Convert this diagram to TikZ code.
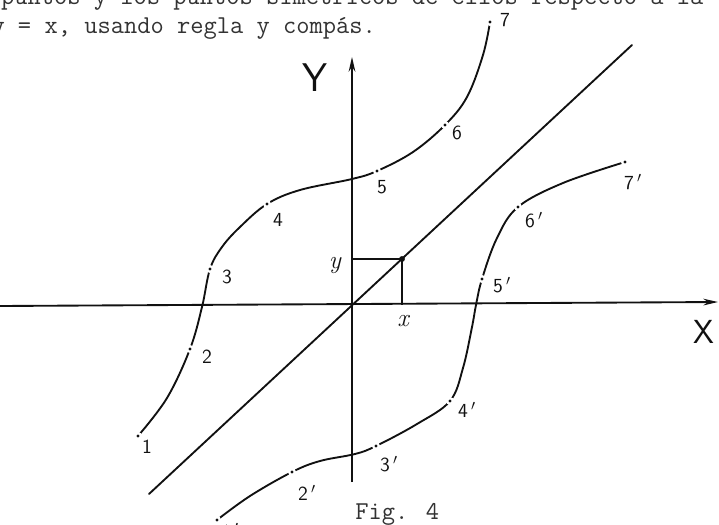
\documentclass[tikz,border=0pt]{standalone}
\usepackage{fontspec}
\usetikzlibrary{arrows.meta}
\definecolor{typ}{HTML}{333333}
\definecolor{ink}{HTML}{111111}
\begin{document}
\begin{tikzpicture}[x=0.75pt,y=-0.75pt,
  typtext/.style={anchor=base west,inner sep=0pt,text=typ,font=\ttfamily\fontsize{19.3}{20}\selectfont},
  axisline/.style={draw=ink,line width=1.4pt},
  crv/.style={draw=ink,line width=1.4pt,line cap=round},
  lbl/.style={inner sep=0pt,text=ink,font=\sffamily\fontsize{15}{15}\selectfont},
  axlbl/.style={inner sep=0pt,text=ink,font=\sffamily\fontsize{30}{30}\selectfont},
  varlbl/.style={inner sep=0pt,text=ink,font=\itshape\fontsize{19}{19}\selectfont},
  gap/.style={fill=white},
  ptdot/.style={fill=ink}
]
\useasboundingbox (0,0) rectangle (719,525);
\fill[white] (0,0) rectangle (719,525);

% typewritten text
\node[typtext] (t1) at (0.75,4) {puntos y los puntos simétricos de ellos respecto a la};
\node[typtext] (t2) at (-8.75,33) {y = x, usando regla y compás.};
\node[typtext] (cap) at (355,519) {Fig. 4};

% axes
\coordinate (O) at (352,305);
\coordinate (xl) at (0,306);
\coordinate (xr) at (718,302);
\coordinate (yb) at (352,482);
\coordinate (yt) at (352,57);
\draw[axisline,-{Stealth[length=11pt,width=5pt]}] (xl) -- (xr);
\draw[axisline,-{Stealth[length=11pt,width=5pt]}] (yb) -- (yt);
\node[axlbl] (Ylab) at (315,78) {Y};
\node[axlbl,font=\sffamily\fontsize{25}{25}\selectfont] (Xlab) at (704,332) {X};

% diagonal y = x
\coordinate (d1) at (149,494);
\coordinate (d2) at (632,45);
\draw[crv] (d1) -- (d2);

% point (x,y)
\coordinate (P) at (402,259);
\coordinate (Py) at (352,259);
\coordinate (Px) at (402,305);
\draw[axisline,line width=1.2pt] (Py) -- (P) -- (Px);
\fill[ink] (P) circle[radius=2.2pt];
\node[varlbl] (ylab) at (335,265) {y};
\node[varlbl] (xlab) at (403,321) {x};

% curve A (points 1..7)
\coordinate (A1) at (138,436);
\coordinate (A2) at (190,349);
\coordinate (A3) at (210,269);
\coordinate (A4) at (267,204);
\coordinate (A5) at (377,171);
\coordinate (A6) at (445,125);
\coordinate (A7) at (490,22);
\draw[crv] plot[smooth,tension=0.6] coordinates {(138,436) (167,398) (190,349) (202,307) (210,269) (222,247) (240,227) (267,204) (300,190) (352,179) (377,171) (413,152) (445,125) (467,97) (483,55) (490,22)};

% curve B (points 1'..7')
\coordinate (B1) at (217,520);
\coordinate (B2) at (292,472);
\coordinate (B3) at (376,446);
\coordinate (B4) at (450,401);
\coordinate (B5) at (482,279);
\coordinate (B6) at (518,207);
\coordinate (B7) at (625,162);
\draw[crv] plot[smooth,tension=0.6] coordinates {(217,520) (250,496) (292,472) (320,461) (355,454) (376,446) (417,424) (450,401) (463,368) (472,327) (476,305) (482,279) (497,238) (518,207) (563,183) (625,162)};

% gaps and dots at the marked points
\foreach \p in {A1,A2,A3,A4,A5,A6,A7,B1,B2,B3,B4,B5,B6,B7}{
  \fill[gap] (\p) circle[radius=3pt];
  \fill[ptdot] (\p) circle[radius=1.2pt];
}

% labels
\node[lbl] (L1) at (147,447) {1};
\node[lbl] (L2) at (207,357) {2};
\node[lbl] (L3) at (227,277) {3};
\node[lbl] (L4) at (278,220) {4};
\node[lbl] (L5) at (382,187) {5};
\node[lbl] (L6) at (457,133) {6};
\node[lbl] (L7) at (505,20) {7};
\node[lbl] (M1) at (230,531) {1\,$'$};
\node[lbl] (M2) at (307,493) {2\,$'$};
\node[lbl] (M3) at (389,464) {3\,$'$};
\node[lbl] (M4) at (467,410) {4\,$'$};
\node[lbl] (M5) at (502,285) {5\,$'$};
\node[lbl] (M6) at (534,220) {6\,$'$};
\node[lbl] (M7) at (633,182) {7\,$'$};
\end{tikzpicture}
\end{document}
